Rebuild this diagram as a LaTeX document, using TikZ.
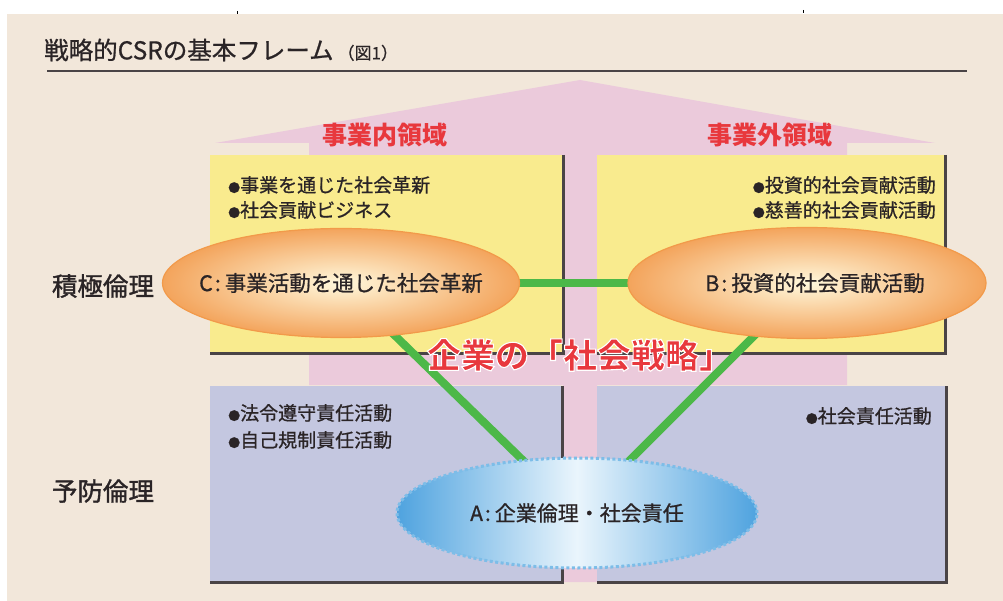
\documentclass[tikz,border=0pt]{standalone}
\usepackage{fontspec}
\setmainfont{Noto Sans CJK JP}
\newfontfamily\medf{Noto Sans CJK JP}[FakeBold=0.8]
\newfontfamily\semf{Noto Sans CJK JP}[FakeBold=1.3]
\usetikzlibrary{shapes.geometric,calc}
\definecolor{beige}{HTML}{F2E7DA}
\definecolor{pinkb}{HTML}{EBCADB}
\definecolor{yel}{HTML}{F9EB8E}
\definecolor{blu}{HTML}{C4C7E0}
\definecolor{grn}{HTML}{4CB848}
\definecolor{redt}{HTML}{E8383D}
\definecolor{shadowc}{HTML}{4A4446}
\definecolor{orng}{HTML}{F29A4A}
\definecolor{cream}{HTML}{FFF8DC}
\definecolor{bluA}{HTML}{4FA3DF}
\definecolor{bluL}{HTML}{EAF5FC}
\definecolor{dotb}{HTML}{7DBDE8}
\definecolor{txt}{HTML}{2A2426}
\pgfdeclarelayer{bg}\pgfdeclarelayer{mid}\pgfsetlayers{bg,mid,main}
\newcommand{\sbul}{{\fontsize{12}{12}\selectfont ●}}
\newcommand{\lab}[2]{\makebox[0pt]{#1\hspace{2pt}:\hspace{4pt}#2}}
\tikzset{
  boxy/.style={anchor=north west, inner sep=0, fill=yel},
  boxb/.style={anchor=north west, inner sep=0, fill=blu},
  edge/.style={draw=shadowc, line width=3pt},
  bul/.style={font=\medf\fontsize{19}{21}\selectfont, text=txt, inner sep=0},
  sidelab/.style={font=\semf\fontsize{25.5}{27}\selectfont, text=txt, inner sep=0},
  redlab/.style={font=\bfseries\fontsize{25}{27}\selectfont, text=redt, inner sep=0},
  ellC/.style={ellipse, draw=orng, line width=1.2pt, inner color=cream, outer color=orng!90,
     font=\medf\fontsize{21.5}{23}\selectfont, text=txt, inner sep=0},
  ellA/.style={ellipse, draw=dotb, line width=3pt, dash pattern=on 3pt off 2.5pt,
     left color=bluA, right color=bluA, middle color=bluL,
     font=\medf\fontsize{21}{23}\selectfont, text=txt, inner sep=0},
  link/.style={draw=grn, line width=8pt}
}
\begin{document}
\begin{tikzpicture}[x=1pt,y=-1pt]
\useasboundingbox (0,0) rectangle (1003,601);
% central red text with white outline (stroke)
\node[font=\bfseries\fontsize{34}{36}\selectfont, text=redt, inner sep=0] (strat) at (580,355)
  {\special{pdf:literal direct 2 Tr 1.1 w 1 1 1 RG}企業の「社会戦略」\special{pdf:literal direct 0 Tr}};
\begin{pgfonlayer}{bg}
\fill[white] (0,0) rectangle (1003,601);
\fill[beige] (7,14) rectangle (1003,601);
\draw[black, line width=0.8pt] (237,11) -- (237,14);
\draw[black, line width=0.8pt] (803,10) -- (803,13);
\draw[shadowc, line width=1.8pt] (47,71) -- (967,71);
% pink arrow
\fill[pinkb] (215,143) -- (580,80) -- (935,143) -- (847,143) -- (847,385) -- (597,385)
  -- (597,582) -- (563,582) -- (563,385) -- (309,385) -- (309,143) -- cycle;
% boxes
\node[boxy, minimum width=353pt, minimum height=198pt] (yl) at (210,155) {};
\node[boxy, minimum width=348pt, minimum height=198pt] (yr) at (597,155) {};
\node[boxb, minimum width=352pt, minimum height=196pt] (bl) at (210,386) {};
\node[boxb, minimum width=349pt, minimum height=196pt] (br) at (597,386) {};
\foreach \b in {yl,yr,bl,br}{
  \draw[edge] (\b.north east) -- (\b.south east) -- (\b.south west);
}
\end{pgfonlayer}
% title
\node[anchor=west, inner sep=0, text=txt, font=\medf\fontsize{24.5}{26}\selectfont] (title) at (44,50)
  {戦略的CSRの基本フレーム\hspace{4pt}{\fontsize{17}{18}\selectfont （図1）}};
% labels
\node[redlab] (inner) at (385,135) {事業内領域};
\node[redlab] (outer) at (770,135) {事業外領域};
\node[sidelab] (pos) at (103,286) {積極倫理};
\node[sidelab] (pre) at (103,491) {予防倫理};
\node[bul, anchor=west] (y1) at (228,185) {\sbul 事業を通じた社会革新};
\node[bul, anchor=west] (y2) at (228,210) {\sbul 社会貢献ビジネス};
\node[bul, anchor=east] (y3) at (936,185) {\sbul 投資的社会貢献活動};
\node[bul, anchor=east] (y4) at (936,210) {\sbul 慈善的社会貢献活動};
\node[bul, anchor=west] (b1) at (228,413) {\sbul 法令遵守責任活動};
\node[bul, anchor=west] (b2) at (228,440) {\sbul 自己規制責任活動};
\node[bul, anchor=east] (b3) at (932,416) {\sbul 社会責任活動};
% ellipses
\node[ellC, minimum width=357pt, minimum height=109pt] (C) at (341,283) {\lab{C}{事業活動を通じた社会革新}};
\node[ellC, minimum width=358pt, minimum height=111pt] (B) at (807,283) {\hspace*{16pt}\lab{B}{投資的社会貢献活動}};
\node[ellA, minimum width=360pt, minimum height=110pt] (A) at (577,513) {\lab{A}{企業倫理・社会責任}};
\begin{pgfonlayer}{mid}
\draw[link] (C.center) -- (A.center);
\draw[link] (B.center) -- (A.center);
\draw[link] (C.center) -- (B.center);
\end{pgfonlayer}
\end{tikzpicture}
\end{document}
